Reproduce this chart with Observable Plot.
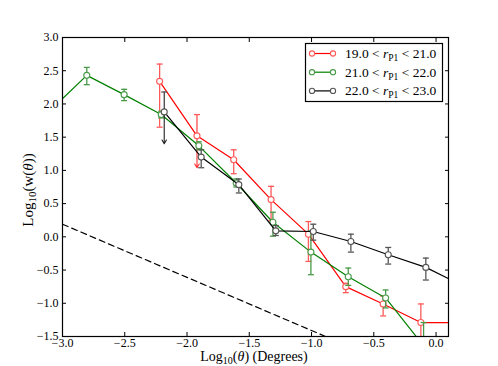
<!DOCTYPE html>
<html><head><meta charset="utf-8">
<script src="https://cdn.jsdelivr.net/npm/d3@7"></script>
<script src="https://cdn.jsdelivr.net/npm/@observablehq/plot@0.6"></script>
<style>body{margin:0;background:#fff} #chart{width:498px;height:366px}</style>
</head><body><div id="chart"></div>
<script>
// ---- data ----
const xTicks = [-3.0, -2.5, -2.0, -1.5, -1.0, -0.5, 0.0];
const yTicks = [-1.5, -1.0, -0.5, 0.0, 0.5, 1.0, 1.5, 2.0, 2.5, 3.0];
const seriesLow = ["19.0", "21.0", "22.0"];
const seriesHigh = ["21.0", "22.0", "23.0"];

const redX  = [-2.22, -1.92, -1.625, -1.325, -1.025, -0.725, -0.425, -0.122, 0.18];
const redY  = [2.34, 1.52, 1.16, 0.56, 0.04, -0.75, -1.01, -1.29, -1.29];
const redHi = [2.60, 1.84, 1.31, 0.76, 0.23, -0.70, -0.89, -1.01, null];
const redLo = [1.65, 1.04, 0.95, 0.24, -0.37, -0.84, -1.19, -1.70, null];
const redArrow = [false, true, false, false, false, false, false, false, false];

const greenX  = [-3.1, -2.805, -2.505, -2.207, -1.905, -1.605, -1.31, -1.005, -0.705, -0.405, -0.10];
const greenY  = [1.90, 2.43, 2.14, 1.84, 1.37, 0.81, 0.22, -0.23, -0.60, -0.92, -1.64];
const greenHi = [null, 2.55, 2.22, 1.89, 1.43, 0.87, 0.37, 0.09, -0.47, -0.80, -1.29];
const greenLo = [null, 2.29, 2.05, 1.79, 1.31, 0.75, 0.01, -0.57, -0.73, -1.07, -2.00];
const greenArrow = [false, false, false, false, false, false, false, false, false, false, false];

const blackX  = [-2.183, -1.886, -1.584, -1.287, -0.986, -0.684, -0.384, -0.082, 0.22];
const blackY  = [1.88, 1.20, 0.785, 0.09, 0.08, -0.07, -0.27, -0.46, -0.74];
const blackHi = [2.18, 1.31, 0.87, 0.17, 0.19, 0.04, -0.16, -0.32, null];
const blackLo = [1.40, 1.04, 0.66, 0.02, -0.05, -0.23, -0.41, -0.65, null];
const blackArrow = [true, false, false, false, false, false, false, false, false];

const dashX = [-3.0, -0.5];
const dashY = [0.19, -1.81];

// ---- build ----
const colors = ["#ff0000", "#008000", "#000000"];
const errColors = ["#ff5a5a", "#4a9a4a", "#555555"];
const arrowColors = ["#ff3030", "#2a8a2a", "#222222"];
const raw = [
  [redX, redY, redHi, redLo, redArrow],
  [greenX, greenY, greenHi, greenLo, greenArrow],
  [blackX, blackY, blackHi, blackLo, blackArrow]
];
const series = raw.map(([xs, ys, his, los, arr], s) =>
  xs.map((x, i) => ({s, x, y: ys[i], hi: his[i], lo: los[i], arrow: arr[i]})));
const dash = dashX.map((x, i) => ({x, y: dashY[i]}));

const capSymbol = {draw(ctx, size) { const r = Math.sqrt(size / Math.PI); ctx.moveTo(-r, 0); ctx.lineTo(r, 0); }};
const fmt = d3.format(".1f");

const marks = [Plot.line(dash, {x: "x", y: "y", stroke: "black", strokeWidth: 1.2, strokeDasharray: "6,4", clip: true})];
series.forEach((rows, s) => {
  const withErr = rows.filter(d => d.hi != null);
  const bars = withErr.filter(d => !d.arrow);
  const arrows = withErr.filter(d => d.arrow);
  marks.push(Plot.line(rows, {x: "x", y: "y", stroke: colors[s], strokeWidth: 1.2, clip: true}));
  marks.push(Plot.ruleX(bars, {x: "x", y1: "lo", y2: "hi", stroke: errColors[s], strokeWidth: 1.3, clip: true}));
  marks.push(Plot.arrow(arrows, {x1: "x", x2: "x", y1: "hi", y2: "lo", stroke: arrowColors[s], strokeWidth: 1.1, headLength: 6, headAngle: 60, clip: true}));
  marks.push(Plot.dot(withErr, {x: "x", y: "hi", symbol: capSymbol, r: 3, stroke: errColors[s], strokeWidth: 1.3, clip: true}));
  marks.push(Plot.dot(bars, {x: "x", y: "lo", symbol: capSymbol, r: 3, stroke: errColors[s], strokeWidth: 1.3, clip: true}));
  marks.push(Plot.dot(rows, {x: "x", y: "y", r: 3, fill: "white", stroke: errColors[s], strokeWidth: 1.1, clip: true}));
});
marks.push(
  Plot.frame({stroke: "black", strokeWidth: 1.2}),
  Plot.axisX({anchor: "bottom", ticks: xTicks, tickSize: -4, tickPadding: 6, tickFormat: fmt, label: null}),
  Plot.axisX({anchor: "top", ticks: xTicks, tickSize: -4, tickFormat: () => "", label: null}),
  Plot.axisY({anchor: "left", ticks: yTicks, tickSize: -4, tickPadding: 8, tickFormat: fmt, label: null}),
  Plot.axisY({anchor: "right", ticks: yTicks, tickSize: -4, tickFormat: () => "", label: null})
);

const chart = Plot.plot({
  width: 498, height: 366,
  marginLeft: 62, marginRight: 50, marginTop: 37, marginBottom: 30,
  x: {domain: [-3.0, 0.1]},
  y: {domain: [-1.5, 3.0]},
  style: {fontFamily: "'Liberation Serif', serif", fontSize: "12px", color: "black", background: "white"},
  marks
});
document.getElementById("chart").appendChild(chart);

// ---- labels & legend ----
const svg = d3.select(chart);
const font = "'Liberation Serif', serif";
{
  const t = svg.append("text").attr("x", 254).attr("y", 361).attr("text-anchor", "middle")
    .attr("font-family", font).attr("font-size", 14);
  t.append("tspan").text("Log");
  t.append("tspan").attr("dy", 2.5).attr("font-size", 10).text("10");
  t.append("tspan").attr("dy", -2.5).text("(");
  t.append("tspan").attr("font-style", "italic").text("θ");
  t.append("tspan").text(") (Degrees)");
}
{
  const t = svg.append("text").attr("transform", "translate(33,190) rotate(-90)").attr("text-anchor", "middle")
    .attr("font-family", font).attr("font-size", 15);
  t.append("tspan").text("Log");
  t.append("tspan").attr("dy", 3).attr("font-size", 11).text("10");
  t.append("tspan").attr("dy", -3).text("(w(");
  t.append("tspan").attr("font-style", "italic").text("θ");
  t.append("tspan").text("))");
}
const lg = svg.append("g");
lg.append("rect").attr("x", 305.5).attr("y", 43.5).attr("width", 137).attr("height", 58)
  .attr("fill", "white").attr("stroke", "black").attr("stroke-width", 1.2);
seriesLow.forEach((lo, i) => {
  const yy = 53.5 + i * 18.7;
  lg.append("line").attr("x1", 312).attr("x2", 333).attr("y1", yy).attr("y2", yy).attr("stroke", colors[i]).attr("stroke-width", 1.2);
  [312, 333].forEach(cx => lg.append("circle").attr("cx", cx).attr("cy", yy).attr("r", 2.6)
    .attr("fill", "white").attr("stroke", errColors[i]).attr("stroke-width", 1.1));
  const t = lg.append("text").attr("x", 345).attr("y", yy + 4.5).attr("text-anchor", "start")
    .attr("font-family", font).attr("font-size", 13.5);
  t.append("tspan").text(lo + " < ");
  t.append("tspan").attr("font-style", "italic").text("r");
  t.append("tspan").attr("dy", 3).attr("font-size", 9.5).text("P1");
  t.append("tspan").attr("dy", -3).text(" < " + seriesHigh[i]);
});
</script></body></html>
